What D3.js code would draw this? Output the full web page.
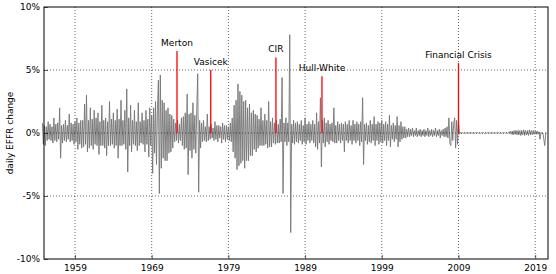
<!DOCTYPE html>
<html>
<head>
<meta charset="utf-8">
<script src="https://cdn.jsdelivr.net/npm/d3@7"></script>
<style>
  body { margin: 0; background: #fff; }
  text { font-family: "DejaVu Sans", sans-serif; }
</style>
</head>
<body>
<svg id="chart" width="556" height="274"></svg>
<script>

// daily EFFR change (%) at 8 points a year, one list per decade
var changes1950s = [0.8, -0.9,
  0.6, -1.0, 0.5, -0.6, 0.9, -0.5, 0.7, -0.6,
  0.5, -0.8, 1.2, -0.6, 0.7, -0.7, 0.8, -0.5,
  2.0, -2.0, 0.6, -0.8, 0.7, -0.6, 1.0, -0.7,
  0.6, -0.5, 1.5, -0.7, 0.8, -0.6, 0.7, -0.9,
  0.9, -0.7, 1.2, -1.3, 0.8, -0.9, 1.0, -1.2]
var changes1960s = [
  1.0, -1.1, 2.3, -0.9, 3.0, -1.5, 1.0, -1.2,
  2.0, -1.0, 1.1, -1.3, 1.8, -0.9, 1.2, -1.0,
  1.6, -1.7, 0.9, -1.0, 2.2, -1.0, 1.0, -1.2,
  1.2, -1.8, 0.9, -1.0, 2.5, -1.0, 1.1, -0.9,
  1.6, -1.2, 1.0, -1.0, 1.9, -2.0, 1.1, -1.0,
  2.6, -1.0, 1.0, -0.9, 1.8, -1.3, 3.5, -3.1,
  1.2, -1.0, 2.2, -1.5, 1.0, -0.9, 1.8, -1.0,
  0.9, -1.4, 2.4, -1.0, 0.9, -0.8, 1.6, -0.9,
  1.0, -1.5, 1.8, -0.9, 1.1, -1.9, 2.0, -1.0,
  1.4, -3.2, 2.0, -1.6, 2.5, -2.5, 1.8, 4.2]
var changes1970s = [
  -4.8, 4.6, -2.8, 2.6, -2.0, 2.4, -2.2, 1.8,
  -2.2, 2.0, -1.6, 1.5, -1.5, 1.4, -1.2, 1.1,
  -0.7, 0.8, -0.6, 1.0, -0.8, 0.7, -0.6, 1.2,
  -1.0, 1.3, -1.3, 1.6, -1.2, 3.1, -3.3, 1.5,
  -1.4, 1.6, -2.0, 2.4, -1.3, 1.4, -1.6, 1.8,
  4.7, -4.7, 1.0, -1.2, 0.8, -0.7, 1.0, -0.6,
  0.5, -0.7, 1.5, -0.6, 0.5, -0.5, 0.7, -0.4,
  0.4, -0.6, 0.9, -0.5, 0.6, -0.7, 0.6, -0.4,
  0.5, -0.8, 0.8, -0.5, 0.6, -0.7, 0.6, -0.5,
  0.5, -0.6, 0.8, -0.7, 1.2, -1.5, 2.2, -2.0]
var changes1980s = [
  2.6, -2.9, 3.9, -2.6, 3.3, -2.4, 3.0, -2.2,
  2.5, -2.8, 2.6, -2.2, 2.0, -2.2, 2.3, -1.8,
  1.6, -1.8, 1.8, -1.3, 1.5, -1.5, 1.4, -1.2,
  1.1, -1.0, 2.0, -1.0, 1.0, -1.0, 1.5, -0.9,
  1.0, -1.2, 2.5, -1.1, 0.9, -1.1, 1.2, -0.8,
  0.8, -0.9, 1.0, -0.8, 0.7, -0.8, 1.1, -0.7,
  4.4, -4.8, 0.8, -0.7, 1.2, -1.0, 0.8, -0.7,
  7.8, -7.9, 0.7, -0.8, 1.0, -0.9, 0.8, -0.7,
  0.9, -0.8, 0.7, -0.6, 1.0, -0.9, 0.6, -0.7,
  1.2, -0.9, 0.7, -0.6, 0.9, -0.8, 0.7, -0.6]
var changes1990s = [
  1.0, -0.8, 0.7, -1.1, 1.6, -1.3, 0.9, -0.8,
  2.8, -2.7, 1.0, -0.8, 1.2, -1.1, 0.8, -0.7,
  1.0, -0.9, 0.7, -0.6, 0.8, -0.7, 2.0, -0.8,
  0.6, -0.8, 0.9, -0.6, 0.7, -0.8, 0.8, -0.6,
  0.7, -1.5, 0.9, -0.6, 0.7, -0.8, 1.0, -0.6,
  0.6, -0.9, 1.0, -0.6, 0.7, -0.8, 0.9, -0.6,
  0.7, -1.0, 0.9, -0.7, 2.8, -2.5, 0.7, -0.6,
  0.8, -0.9, 0.6, -0.7, 1.0, -0.8, 0.7, -0.6,
  1.3, -1.0, 0.7, -0.6, 0.9, -0.9, 0.8, -0.7,
  1.0, -0.8, 0.7, -0.6, 0.9, -1.0, 0.7, -0.6]
var changes2000s = [
  1.4, -1.1, 0.6, -0.5, 0.8, -0.7, 0.6, -0.5,
  1.3, -1.1, 0.6, -0.7, 0.9, -0.5, 0.5, -0.4,
  0.5, -0.4, 0.3, -0.3, 0.4, -0.3, 0.3, -0.2,
  0.4, -0.3, 0.2, -0.2, 0.4, -0.3, 0.2, -0.2,
  0.3, -0.3, 0.2, -0.2, 0.3, -0.3, 0.2, -0.2,
  0.4, -0.3, 0.2, -0.2, 0.3, -0.3, 0.2, -0.2,
  0.4, -0.3, 0.2, -0.2, 0.3, -0.4, 0.2, -0.2,
  0.3, -0.3, 0.4, -0.3, 0.5, -0.4, 1.2, -0.8,
  -1.0, 0.9, -0.6, 0.7, 1.2, -1.2, 1.0, -0.9,
  1.0, -0.1, 0.05, -0.05, 0.03, -0.03, 0.03, -0.03]
var changes2010s = [
  0.03, -0.03, 0.03, -0.03, 0.03, -0.03, 0.03, -0.03,
  0.03, -0.03, 0.03, -0.03, 0.03, -0.03, 0.03, -0.03,
  0.03, -0.03, 0.03, -0.03, 0.03, -0.03, 0.03, -0.03,
  0.03, -0.03, 0.03, -0.03, 0.03, -0.03, 0.03, -0.03,
  0.03, -0.03, 0.03, -0.03, 0.03, -0.03, 0.03, -0.03,
  0.03, -0.03, 0.03, -0.03, 0.03, -0.03, 0.15, -0.1,
  0.15, -0.15, 0.2, -0.1, 0.2, -0.15, 0.2, -0.15,
  0.2, -0.2, 0.2, -0.15, 0.25, -0.2, 0.2, -0.15,
  0.2, -0.2, 0.25, -0.15, 0.2, -0.15, 0.2, -0.1,
  0.15, -0.1, 0.15, -0.1, 0.1, -0.5, 0.05, -0.05]
var changes2020s = [0.0, -0.5, -1.0, 0.0, 0.0]

var decadeStarts = [1954.75, 1960, 1970, 1980, 1990, 2000, 2010, 2020]
var decadeValues = [changes1950s, changes1960s, changes1970s, changes1980s,
  changes1990s, changes2000s, changes2010s, changes2020s]

// model papers + crisis marked with red lines
var eventNames = ["Merton", "Vasicek", "CIR", "Hull-White", "Financial Crisis"]
var eventYears = [1972.3, 1976.7, 1985.2, 1991.2, 2009.0]
var eventHeights = [6.5, 5.0, 6.0, 4.5, 5.55]

var xTicks = [1959, 1969, 1979, 1989, 1999, 2009, 2019]
var yTicks = [-10, -5, 0, 5, 10]

var series = []
decadeValues.forEach(function (vals, d) {
  vals.forEach(function (v, i) {
    series.push({ year: decadeStarts[d] + i * 0.125, value: v })
  })
})

var svg = d3.select("#chart")
var pLeft = 44, pRight = 548, pTop = 7, pBottom = 259

var x = d3.scaleLinear().domain([1954.96, 2020.67]).range([pLeft, pRight])
var y = d3.scaleLinear().domain([-10, 10]).range([pBottom, pTop])

// grid
svg.append("g").selectAll("line").data(xTicks).enter().append("line")
  .attr("x1", d => x(d)).attr("x2", d => x(d))
  .attr("y1", pTop).attr("y2", pBottom)
  .attr("stroke", "#000").attr("stroke-width", 0.6).attr("stroke-dasharray", "1,2")
svg.append("g").selectAll("line").data([-5, 5]).enter().append("line")
  .attr("x1", pLeft).attr("x2", pRight)
  .attr("y1", d => y(d)).attr("y2", d => y(d))
  .attr("stroke", "#000").attr("stroke-width", 0.6).attr("stroke-dasharray", "1,2")

// series
var line = d3.line().x(d => x(d.year)).y(d => y(d.value))
svg.append("path").datum(series)
  .attr("d", line)
  .attr("fill", "none")
  .attr("stroke", "#757575")
  .attr("stroke-width", 0.9)

// zero grid line sits on top of the series
svg.append("line")
  .attr("x1", pLeft).attr("x2", pRight)
  .attr("y1", y(0)).attr("y2", y(0))
  .attr("stroke", "#000").attr("stroke-width", 0.6).attr("stroke-dasharray", "1,2")

// event markers
eventNames.forEach(function (name, i) {
  svg.append("line")
    .attr("x1", x(eventYears[i])).attr("x2", x(eventYears[i]))
    .attr("y1", y(0)).attr("y2", y(eventHeights[i]))
    .attr("stroke", "red").attr("stroke-width", 1.3)
  svg.append("text")
    .attr("x", x(eventYears[i]))
    .attr("y", y(eventHeights[i]) - 5)
    .attr("text-anchor", "middle")
    .attr("font-size", 9)
    .text(name)
})

// axes
var xAxis = d3.axisBottom(x).tickValues(xTicks).tickFormat(d3.format("d")).tickSize(-4).tickPadding(6)
var yAxis = d3.axisLeft(y).tickValues(yTicks).tickFormat(d => d + "%").tickSize(-4).tickPadding(4)

var gx = svg.append("g").attr("transform", "translate(0," + pBottom + ")").call(xAxis)
var gy = svg.append("g").attr("transform", "translate(" + pLeft + ",0)").call(yAxis)
;[gx, gy].forEach(function (g) {
  g.select(".domain").remove()
  g.selectAll("text").attr("font-size", 9).attr("fill", "#000").attr("font-family", "DejaVu Sans")
  g.selectAll("line").attr("stroke", "#000").attr("stroke-width", 0.6)
})

// frame
svg.append("rect")
  .attr("x", pLeft).attr("y", pTop)
  .attr("width", pRight - pLeft).attr("height", pBottom - pTop)
  .attr("fill", "none").attr("stroke", "#000").attr("stroke-width", 1)

svg.append("text")
  .attr("transform", "translate(10," + (pTop + pBottom) / 2 + ") rotate(-90)")
  .attr("text-anchor", "middle")
  .attr("dy", "0.35em")
  .attr("font-size", 9)
  .text("daily EFFR change")

</script>
</body>
</html>
